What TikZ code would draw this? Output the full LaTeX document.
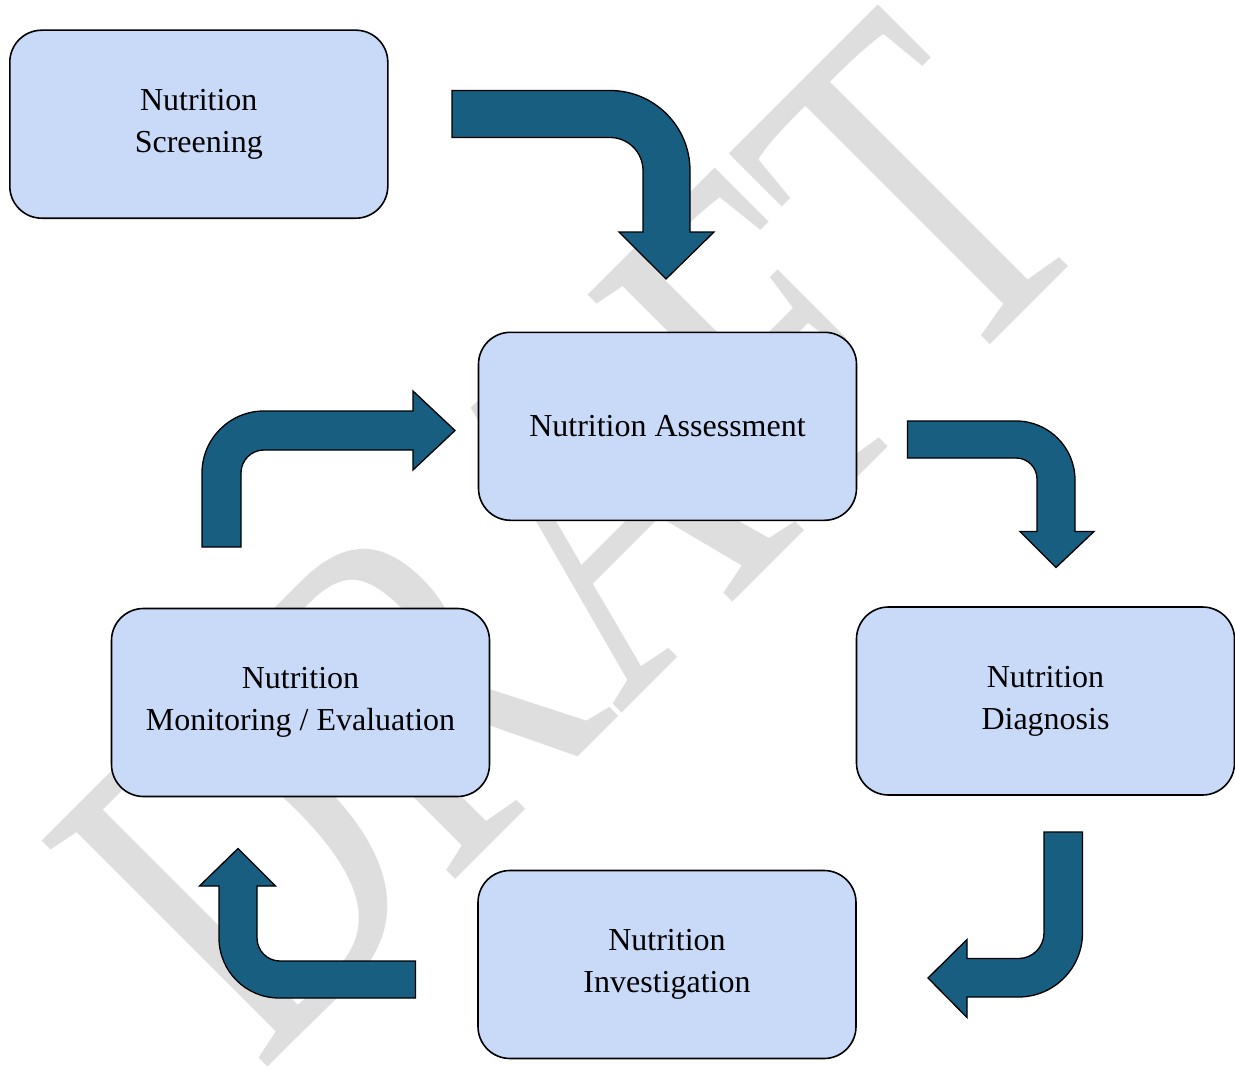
\documentclass[tikz,border=0pt]{standalone}
\usepackage{fontspec}
\usepackage{graphicx}
\setmainfont{Liberation Serif}
\newfontfamily\wmfont{Liberation Serif}[Kerning=Off]
\definecolor{boxfill}{RGB}{201,218,248}
\definecolor{arrowfill}{RGB}{23,94,128}
\definecolor{wmgray}{RGB}{222,222,222}
\begin{document}
\begin{tikzpicture}[x=1pt,y=-1pt,
  box/.style={draw=black, line width=1.6pt, fill=boxfill, rounded corners=32pt,
    minimum width=378pt, minimum height=188pt, inner sep=0pt, align=center,
    font=\fontsize{32}{42}\selectfont, text=black},
  blockarrow/.style={fill=arrowfill, draw=black, line width=1.3pt, line join=miter},
  wmtext/.style={font=\wmfont\fontsize{488}{488}\selectfont, text=wmgray, inner sep=0pt}]
\useasboundingbox (0,0) rectangle (1235,1070);
\clip (0,0) rectangle (1235,1070);
\fill[white] (0,0) rectangle (1235,1070);

% watermark
\node[wmtext, anchor=base west, rotate=45] (watermark) at (260,1075) {\scalebox{0.75}[1]{DRAFT}};

% boxes
\node[box] (screening) at (198.8,124.2) {Nutrition\\Screening};
\node[box] (assessment) at (667.5,426.3) {Nutrition Assessment};
\node[box] (diagnosis) at (1045.5,701) {Nutrition\\Diagnosis};
\node[box] (investigation) at (667,964.5) {Nutrition\\Investigation};
\node[box] (monitoring) at (300.5,702.5) {Nutrition\\Monitoring / Evaluation};

% bent block arrows
\draw[blockarrow] (452,90.5) -- (610,90.5) .. controls (654.2,90.5) and (690,126.3) .. (690,170.5)
  -- (690,232) -- (714,232) -- (666,279) -- (619,232) -- (643,232) -- (643,170.5)
  .. controls (643,152.3) and (628.2,137.5) .. (610,137.5) -- (452,137.5) -- cycle;

\draw[blockarrow] (202,547) -- (202,473) .. controls (202,438.8) and (229.8,411) .. (264,411)
  -- (413,411) -- (413,391) -- (455,430.5) -- (413,470) -- (413,450) -- (264,450)
  .. controls (251.3,450) and (241,460.3) .. (241,473) -- (241,547) -- cycle;

\draw[blockarrow] (907.5,421) -- (1016,421) .. controls (1048.6,421) and (1075,447.4) .. (1075,480)
  -- (1075,531.5) -- (1094,531.5) -- (1056,567.5) -- (1020,531.5) -- (1037,531.5) -- (1037,479)
  .. controls (1037,467.4) and (1027.6,458) .. (1016,458) -- (907.5,458) -- cycle;

\draw[blockarrow] (1044,832) -- (1082.5,832) -- (1082.5,933) .. controls (1082.5,968.3) and (1053.8,997) .. (1018.5,997)
  -- (967,997) -- (967,1017.5) -- (928,978) -- (967,939.5) -- (967,958.5) -- (1018.5,958.5)
  .. controls (1032.6,958.5) and (1044,947.1) .. (1044,933) -- cycle;

\draw[blockarrow] (415.5,961) -- (415.5,998) -- (279,998) .. controls (245.9,998) and (219,971.1) .. (219,938)
  -- (219,886) -- (199.5,886) -- (238,848.5) -- (275.5,886) -- (257,886) -- (257,938)
  .. controls (257,950.7) and (267.3,961) .. (280,961) -- cycle;
\end{tikzpicture}
\end{document}
